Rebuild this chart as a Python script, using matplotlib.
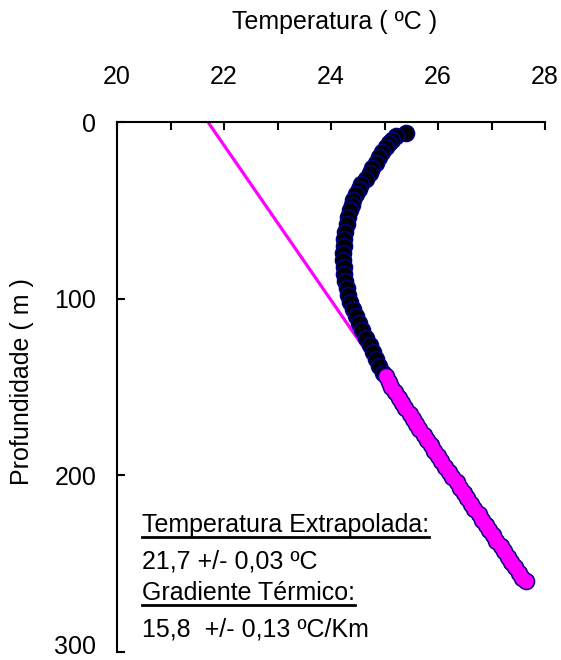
import matplotlib
matplotlib.use("Agg")
from matplotlib import pyplot as plt
from matplotlib.ticker import MultipleLocator
from matplotlib.transforms import ScaledTranslation

plt.rcParams["font.family"] = ["Liberation Sans", "DejaVu Sans"]

# measured profile (upper part, free convection zone)
depth_top = [6, 8, 10, 12, 14, 17, 20, 23, 26, 29, 32, 35, 38, 41, 44, 47, 50,
             54, 58, 62, 66, 70, 74, 78, 82, 86, 90, 94, 98, 102, 106, 110,
             114, 118, 122, 126, 130, 134, 138, 142]
temp_top = [25.40, 25.22, 25.14, 25.08, 25.03, 24.95, 24.90, 24.84, 24.77,
            24.72, 24.65, 24.57, 24.52, 24.47, 24.42, 24.39, 24.35, 24.31,
            24.29, 24.27, 24.25, 24.24, 24.23, 24.23, 24.24, 24.25, 24.27,
            24.29, 24.32, 24.36, 24.41, 24.46, 24.52, 24.58, 24.65, 24.72,
            24.78, 24.84, 24.90, 24.97]

# interval used for the linear fit
depth_fit = [144, 147, 150, 153, 156, 159, 162, 165, 168, 171, 174, 177, 180,
             183, 186, 189, 192, 195, 198, 201, 204, 207, 210, 213, 216, 219,
             222, 225, 228, 231, 234, 237, 240, 243, 246, 249, 252, 255, 258,
             260]
temp_fit = [25.03, 25.08, 25.13, 25.20, 25.27, 25.33, 25.39, 25.47, 25.53,
            25.58, 25.65, 25.73, 25.80, 25.86, 25.93, 26.00, 26.06, 26.13,
            26.21, 26.27, 26.35, 26.41, 26.48, 26.55, 26.62, 26.68, 26.76,
            26.83, 26.89, 26.95, 27.03, 27.09, 27.17, 27.24, 27.30, 27.37,
            27.44, 27.51, 27.57, 27.65]

# extrapolated line
line_depth = [0, 260]
line_temp = [21.7, 27.63]

ann_lines = ["Temperatura Extrapolada:", "21,7 +/- 0,03 ºC",
             "Gradiente Térmico:", "15,8  +/- 0,13 ºC/Km"]
ann_underline = [True, False, True, False]

fig = plt.figure(figsize=(5.61, 6.60), dpi=100)
ax = fig.add_axes([117 / 561, 1 - 652 / 660, 428 / 561, 530 / 660])

ax.plot(line_temp, line_depth, color="#FF00FF", lw=2.3, zorder=2)
ax.plot(temp_top + temp_fit, depth_top + depth_fit, "o", ms=11.5,
        mfc="black", mec="#000080", mew=1.2, zorder=3)
ax.plot(temp_fit, depth_fit, "o", ms=10.5, mfc="#FF00FF", mec="#FF00FF",
        mew=0, zorder=4)

ax.set_xlim(20, 28)
ax.set_ylim(300, 0)
ax.xaxis.set_major_locator(MultipleLocator(2))
ax.xaxis.set_minor_locator(MultipleLocator(1))
ax.yaxis.set_major_locator(MultipleLocator(100))
ax.xaxis.tick_top()
ax.spines["right"].set_visible(False)
ax.spines["bottom"].set_visible(False)
for s in ("left", "top"):
    ax.spines[s].set_linewidth(1.5)
ax.tick_params(axis="x", which="both", direction="in", length=5.5, width=1.5,
               pad=24, labelsize=18)
ax.tick_params(axis="y", which="both", direction="in", length=5.5, width=1.5,
               pad=15, labelsize=18)

fig.text(22 / 561, 1 - 382 / 660, "Profundidade ( m )", fontsize=18,
         rotation=90, ha="center", va="center")
fig.text(335 / 561, 1 - 22 / 660, "Temperatura ( ºC )", fontsize=18,
         ha="center", va="center")

fig.canvas.draw()
# keep the lowest depth label inside the figure
ylabels = ax.get_yticklabels()
last = [l for l in ylabels if l.get_text() == "300"]
for l in last:
    l.set_transform(l.get_transform() + ScaledTranslation(0, 7 / 100, fig.dpi_scale_trans))

ys = [532, 568, 600, 637]
texts = []
for txt, yp in zip(ann_lines, ys):
    t = fig.text(142 / 561, 1 - yp / 660, txt, fontsize=18, ha="left",
                 va="baseline")
    texts.append(t)

fig.canvas.draw()
r = fig.canvas.get_renderer()
for t, u, yp in zip(texts, ann_underline, ys):
    if not u:
        continue
    bb = t.get_window_extent(r).transformed(fig.transFigure.inverted())
    yl = 1 - (yp + 5) / 660
    fig.add_artist(plt.Line2D([bb.x0, bb.x1], [yl, yl], color="black",
                              lw=2, transform=fig.transFigure))

plt.savefig("out.png", dpi=100)
